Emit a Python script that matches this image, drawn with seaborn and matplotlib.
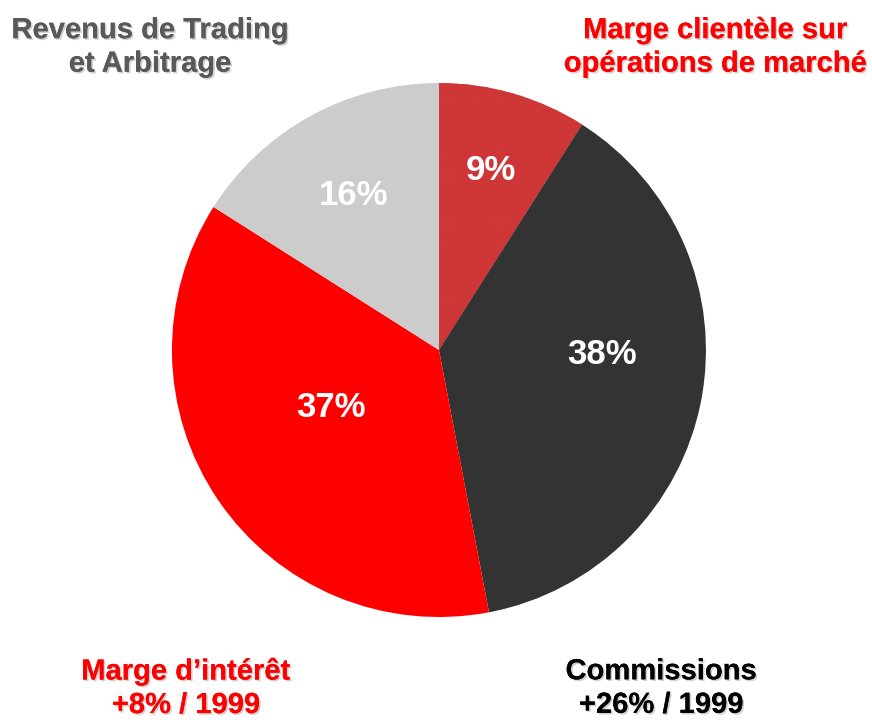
""" Revenue split pie chart (French annual report style). """

import numpy as np
import matplotlib as mpl
import matplotlib.pyplot as plt
import matplotlib.patheffects as pe
import seaborn as sns

# Data
shares = [9, 38, 37, 16]
pct_labels = ["9%", "38%", "37%", "16%"]
slice_colors = ["#e63030", "#333333", "#ff0000", "#cccccc"]
categories = [
    "Marge clientèle sur\nopérations de marché",
    "Commissions\n+26% / 1999",
    "Marge d\u2019intérêt\n+8% / 1999",
    "Revenus de Trading\net Arbitrage",
]
category_colors = ["#ff0000", "#000000", "#ff0000", "#595959"]

# Layout (figure coords for category titles, polar-ish spots for the percentages)
title_pos = [(0.820, 0.935), (0.758, 0.047), (0.213, 0.047), (0.172, 0.935)]
pct_pos = [(0.70, 16.0), (0.61, 91.7), (0.46, 242.0), (0.66, 331.0)]


def main():
    sns.set_theme(style="white")
    plt.rcParams["font.family"] = ["Liberation Sans", "DejaVu Sans"]
    mpl.rcParams["hatch.linewidth"] = 1.0

    fig = plt.figure(figsize=(8.72, 7.22), dpi=100)
    ax = fig.add_axes([0.1972, 0.1454, 0.6124, 0.7396])

    wedges, _ = ax.pie(shares, colors=slice_colors, startangle=90,
                       counterclock=False, radius=1,
                       wedgeprops=dict(linewidth=0))
    # checkered fill for the market-operations slice
    wedges[0].set_hatch("++++++")
    wedges[0].set_edgecolor("#c83838")
    wedges[0].set_linewidth(0)

    ax.set_xlim(-1, 1)
    ax.set_ylim(-1, 1)
    ax.set_aspect("equal")
    ax.axis("off")

    for lab, (r, ang) in zip(pct_labels, pct_pos):
        a = np.deg2rad(ang)
        ax.text(r * np.sin(a), r * np.cos(a), lab, ha="center", va="center",
                color="white", fontsize=25, fontweight="bold")

    shadow = [pe.withSimplePatchShadow(offset=(1.2, -1.2), shadow_rgbFace="#999999", alpha=0.45),
              pe.Normal()]
    for txt, col, (x, y) in zip(categories, category_colors, title_pos):
        fig.text(x, y, txt, ha="center", va="center", color=col, fontsize=21,
                 fontweight="bold", linespacing=1.25, path_effects=shadow)

    fig.savefig("out.png", dpi=100)


if __name__ == "__main__":
    main()
